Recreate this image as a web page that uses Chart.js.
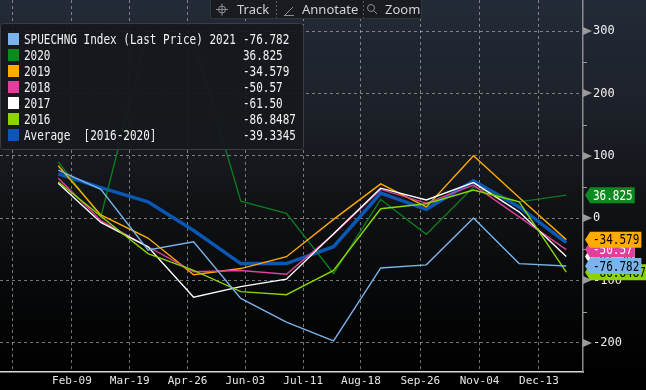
<!DOCTYPE html>
<html>
<head>
<meta charset="utf-8">
<script src="https://cdn.jsdelivr.net/npm/chart.js@4/dist/chart.umd.min.js"></script>
<style>
body{margin:0;background:#000;}
#wrap{width:646px;height:390px;position:relative;}
</style>
</head>
<body>
<div id="wrap"><canvas id="spuechng"></canvas></div>
<script>
// x = day of year (Jan 1 = 0), one point per month end
var monthDays = [30,58,89,119,150,180,211,242,272,303,333,364];
var tickDays = [0,39,77,115,153,191,229,268,307,346];
var tickLabels = ["","Feb-09","Mar-19","Apr-26","Jun-03","Jul-11","Aug-18","Sep-26","Nov-04","Dec-13"];
var yTicks = [-200,-100,0,100,200,300];

var s2021 = [77,46,-51,-38,-129,-167,-197,-80,-75,0,-73,-76.782];
var s2020 = [90,2,300,286,27,7.5,-89,30,-26,50,26,36.825];
var s2019 = [84,5,-32,-91,-81,-62,-2,55,18,100,33,-34.579];
var s2018 = [64,-4,-46,-86,-84,-90,-26,46,24,53,2,-50.57];
var s2017 = [56,-7,-46,-127,-110,-98,-25,48,29,57,10,-61.50];
var s2016 = [58,3,-57,-84,-118,-123,-84,15,23,45,26,-86.8487];
var sAvg = [71,49,26,-20,-73,-73,-46,40,14,60,18,-39.3345];

var legendNames = ["SPUECHNG Index (Last Price) 2021","2020","2019","2018","2017","2016","Average  [2016-2020]"];
var legendValues = ["-76.782","36.825","-34.579","-50.57","-61.50","-86.8487","-39.3345"];
var colors = ["#7ab4ea","#0b8a1f","#ffab00","#e0409c","#ffffff","#8cd400","#0a57b4"];

function pts(arr){
    return arr.map(function(v,i){ return {x: monthDays[i], y: v}; });
}

var mono = "DejaVu Sans Mono";

// tall narrow text, a bit like the terminal font
function tallText(c, txt, x, y, size, sy){
    c.save();
    c.translate(x, y);
    c.scale(1, sy || 1.25);
    c.font = size + 'px "' + mono + '"';
    c.textBaseline = 'middle';
    c.textAlign = 'left';
    c.fillText(txt, 0, 0);
    c.restore();
}

var bgPlugin = {
    id: 'bg',
    beforeDraw: function(chart){
        var c = chart.ctx;
        var g = c.createLinearGradient(0,0,0,372);
        g.addColorStop(0,'#232b38');
        g.addColorStop(0.3,'#1c2028');
        g.addColorStop(0.55,'#101215');
        g.addColorStop(0.8,'#060708');
        g.addColorStop(1,'#000000');
        c.save();
        c.fillStyle = '#000';
        c.fillRect(0,0,chart.width,chart.height);
        c.fillStyle = g;
        c.fillRect(0,0,chart.width,372);
        c.restore();
    }
};

var overlayPlugin = {
    id: 'overlay',
    afterDraw: function(chart){
        var c = chart.ctx;
        var y = chart.scales.y;
        var right = chart.chartArea.right;
        c.save();
        // axis markers
        c.fillStyle = '#9a9a9a';
        c.strokeStyle = '#9a9a9a';
        c.lineWidth = 1;
        for (var v = -200; v <= 300; v += 50){
            var py = Math.round(y.getPixelForValue(v));
            if (v % 100 === 0){
                c.beginPath();
                c.moveTo(right, py-4);
                c.lineTo(right+9, py);
                c.lineTo(right, py+4);
                c.closePath();
                c.fill();
            } else {
                c.beginPath();
                c.moveTo(right, py+0.5);
                c.lineTo(right+4, py+0.5);
                c.stroke();
            }
        }

        // value tags on the right
        var tags = [
            {v: s2017[11], t: legendValues[4], bg: colors[4], fg: '#000'},
            {v: s2016[11], t: legendValues[5], bg: colors[5], fg: '#000'},
            {v: s2018[11], t: legendValues[3], bg: colors[3], fg: '#fff'},
            {v: s2021[11], t: legendValues[0], bg: colors[0], fg: '#000'},
            {v: s2019[11], t: legendValues[2], bg: colors[2], fg: '#000'},
            {v: s2020[11], t: legendValues[1], bg: colors[1], fg: '#fff'}
        ];
        c.font = '11px "' + mono + '"';
        tags.forEach(function(tg){
            var py = y.getPixelForValue(tg.v);
            var w = c.measureText(tg.t).width + 5;
            c.fillStyle = tg.bg;
            c.beginPath();
            c.moveTo(right+2, py);
            c.lineTo(right+7, py-8);
            c.lineTo(right+7+w, py-8);
            c.lineTo(right+7+w, py+8);
            c.lineTo(right+7, py+8);
            c.closePath();
            c.fill();
            c.fillStyle = tg.fg;
            tallText(c, tg.t, right+10, py+1, 11, 1.35);
        });

        // legend box
        c.fillStyle = 'rgba(22,24,28,0.93)';
        c.strokeStyle = '#3a3d43';
        c.beginPath();
        c.roundRect(0.5, 23.5, 303, 126, 3);
        c.fill();
        c.stroke();
        for (var i = 0; i < legendNames.length; i++){
            var ry = 39 + i*16;
            c.fillStyle = colors[i];
            c.fillRect(8, ry-6, 11, 12);
            c.fillStyle = '#f2f2f2';
            tallText(c, legendNames[i], 24, ry+1, 11, 1.3);
            tallText(c, legendValues[i], 243, ry+1, 11, 1.3);
        }

        // toolbar
        c.fillStyle = '#181b20';
        c.strokeStyle = '#30343a';
        c.fillRect(210, 0, 212, 19);
        c.strokeRect(210.5, -0.5, 211, 19);
        c.setLineDash([2,2]);
        c.strokeStyle = '#5a5e64';
        [276.5, 363.5].forEach(function(sx){
            c.beginPath(); c.moveTo(sx, 1); c.lineTo(sx, 18); c.stroke();
        });
        c.setLineDash([]);
        c.strokeStyle = '#8a8e94';
        // crosshair
        c.beginPath();
        c.arc(222, 9.5, 3.5, 0, Math.PI*2);
        c.moveTo(216, 9.5); c.lineTo(228, 9.5);
        c.moveTo(222, 3.5); c.lineTo(222, 15.5);
        c.stroke();
        // pencil
        c.beginPath();
        c.moveTo(285, 15); c.lineTo(293, 7);
        c.moveTo(284, 15.5); c.lineTo(294, 15.5);
        c.stroke();
        // magnifier
        c.beginPath();
        c.arc(371, 8, 3.5, 0, Math.PI*2);
        c.moveTo(373.5, 10.5); c.lineTo(377, 14);
        c.stroke();
        c.fillStyle = '#cfd2d6';
        c.font = '13px "Noto Sans"';
        c.textBaseline = 'middle';
        c.fillText('Track', 237, 10);
        c.fillText('Annotate', 302, 10);
        c.fillText('Zoom', 385, 10);
        c.restore();
    }
};

function spuechngChart(){
    var ctx = document.getElementById("spuechng");
    var options = {};
    var data = {};
    options.type = 'line';
    data.datasets = [
        {label: legendNames[0], data: pts(s2021), borderColor: colors[0], order: 1},
        {label: legendNames[1], data: pts(s2020), borderColor: '#0d7a20', order: 6},
        {label: legendNames[2], data: pts(s2019), borderColor: colors[2], order: 5},
        {label: legendNames[3], data: pts(s2018), borderColor: colors[3], order: 4},
        {label: legendNames[4], data: pts(s2017), borderColor: colors[4], order: 3},
        {label: legendNames[5], data: pts(s2016), borderColor: colors[5], order: 2},
        {label: legendNames[6], data: pts(sAvg), borderColor: colors[6], borderWidth: 3.5, order: 7}
    ];
    data.datasets.forEach(function(d){
        d.pointRadius = 0;
        d.tension = 0;
        if (!d.borderWidth) d.borderWidth = 1.4;
        d.fill = false;
    });
    options.data = data;
    options.options = {
        responsive: true,
        maintainAspectRatio: false,
        animation: false,
        layout: {padding: 0},
        plugins: {legend: {display: false}, tooltip: {enabled: false}},
        scales: {
            x: {
                type: 'linear',
                min: -8.3,
                max: 375,
                afterFit: function(s){ s.height = 18; s.paddingLeft = 0; s.paddingRight = 0; },
                afterBuildTicks: function(axis){
                    axis.ticks = tickDays.map(function(v){ return {value: v}; });
                },
                ticks: {
                    autoSkip: false,
                    maxRotation: 0,
                    padding: 3,
                    color: '#e6e6e6',
                    font: {family: mono, size: 11},
                    callback: function(value){
                        var i = tickDays.indexOf(value);
                        return i >= 0 ? tickLabels[i] : '';
                    }
                },
                grid: {color: 'rgba(190,190,190,0.6)', drawTicks: false, lineWidth: 1},
                border: {display: true, color: '#d8d8d8', width: 1.5, dash: [3,3]}
            },
            y: {
                position: 'right',
                min: -247,
                max: 350,
                afterFit: function(s){ s.width = 63; s.paddingTop = 0; s.paddingBottom = 0; },
                afterBuildTicks: function(axis){
                    axis.ticks = yTicks.map(function(v){ return {value: v}; });
                },
                ticks: {
                    padding: 10,
                    color: '#f0f0f0',
                    font: {family: mono, size: 12}
                },
                grid: {color: 'rgba(190,190,190,0.6)', drawTicks: false, lineWidth: 1},
                border: {display: true, color: '#8c8c8c', width: 1.5, dash: [3,3]}
            }
        }
    };
    options.plugins = [bgPlugin, overlayPlugin];
    new Chart(ctx, options);
}
spuechngChart();
</script>
</body>
</html>
